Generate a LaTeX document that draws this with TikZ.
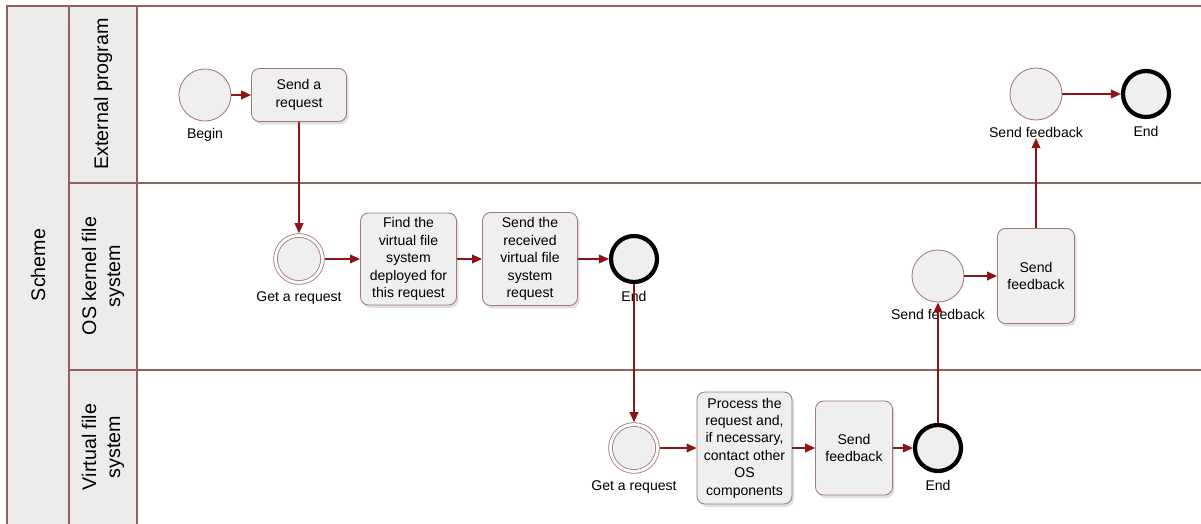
\documentclass[tikz,border=0pt]{standalone}
\usepackage{fontspec}
\setmainfont{Liberation Sans}
\usetikzlibrary{arrows.meta,positioning,shadows}
\definecolor{lanered}{RGB}{150,95,95}
\definecolor{flowred}{RGB}{140,20,20}
\definecolor{boxedge}{RGB}{165,120,120}
\definecolor{boxfill}{RGB}{239,239,239}
\definecolor{headfill}{RGB}{236,236,236}

\begin{document}
\begin{tikzpicture}[
    x=0.025cm, y=-0.025cm,
    >={Triangle[length=2.5mm,width=2.2mm]},
    flow/.style={draw=flowred, line width=0.9pt, ->},
    lane/.style={draw=lanered, line width=0.8pt},
    head/.style={lane, fill=headfill},
    lanetxt/.style={rotate=90, align=center, font=\fontsize{14}{17}\selectfont},
    task/.style={draw=boxedge, fill=boxfill, rounded corners=2mm, line width=0.6pt, align=center, inner sep=2pt,
      font=\fontsize{10}{12.4}\selectfont, drop shadow={shadow xshift=0.5mm, shadow yshift=-0.7mm, opacity=0.25}},
    event/.style={circle, draw=boxedge, fill=boxfill, line width=0.6pt, minimum size=1.3cm, inner sep=0pt},
    catch/.style={event, minimum size=1.175cm, double=white, double distance=2pt, outer sep=1.6pt},
    stop/.style={event, draw=black, line width=3pt, minimum size=1.15cm},
    evlabel/.style={below=1.7mm of #1, inner sep=0pt, font=\fontsize{10}{12}\selectfont},
  ]
  \useasboundingbox (0,0) rectangle (1201,524);
  \fill[white] (0,0) rectangle (1201,524);
  % pool and lanes
  \draw[head] (7,6) rectangle (69,540);
  \draw[head] (69,6) rectangle (137,540);
  \draw[lane] (137,6) -- (1220,6);
  \draw[lane] (69,183) -- (1220,183);
  \draw[lane] (69,370) -- (1220,370);
  \node[lanetxt] (scheme) at (38,265) {Scheme};
  \node[lanetxt] (extlane) at (103,94) {External program};
  \node[lanetxt] (oslane) at (103,276) {OS kernel file\\system};
  \node[lanetxt] (vfslane) at (103,447) {Virtual file\\system};

  % external program
  \node[event] (begin) at (205,95) {};
  \node[evlabel=begin] (beginlbl) {Begin};
  \node[task, minimum width=2.375cm, minimum height=1.325cm] (sendreq) at (299,95) {Send a\\request};
  \node[event] (fbx) at (1036,94) {};
  \node[evlabel=fbx] (fbxlbl) {Send feedback};
  \node[stop] (endx) at (1146,94) {};
  \node[evlabel=endx] (endxlbl) {End};

  % OS kernel file system
  \node[catch] (getk) at (299,259) {};
  \node[evlabel=getk] (getklbl) {Get a request};
  \node[task, minimum width=2.4cm, minimum height=2.3cm] (find) at (408.5,259)
    {Find the\\virtual file\\system\\deployed for\\this request};
  \node[task, minimum width=2.375cm, minimum height=2.325cm] (sendrecv) at (530,259)
    {Send the\\received\\virtual file\\system\\request};
  \node[stop] (endk) at (634,259) {};
  \node[evlabel=endk] (endklbl) {End};
  \node[event] (fbk) at (938,276) {};
  \node[evlabel=fbk] (fbklbl) {Send feedback};
  \node[task, minimum width=1.925cm, minimum height=2.375cm] (fbkern) at (1036,276) {Send\\feedback};

  % virtual file system
  \node[catch] (getv) at (634,448) {};
  \node[evlabel=getv] (getvlbl) {Get a request};
  \node[task, minimum width=2.375cm, minimum height=2.8cm] (process) at (744.5,448)
    {Process the\\request and,\\if necessary,\\contact other\\OS\\components};
  \node[task, minimum width=1.925cm, minimum height=2.35cm] (fbvfs) at (854,448) {Send\\feedback};
  \node[stop] (endv) at (938,448) {};
  \node[evlabel=endv] (endvlbl) {End};

  \draw[flow] (begin) -- (sendreq);
  \draw[flow] (sendreq) -- (getk);
  \draw[flow] (getk) -- (find);
  \draw[flow] (find) -- (sendrecv);
  \draw[flow] (sendrecv) -- (endk);
  \draw[flow] (endk) -- (getv);
  \draw[flow] (getv) -- (process);
  \draw[flow] (process) -- (fbvfs);
  \draw[flow] (fbvfs) -- (endv);
  \draw[flow] (endv) -- (fbk);
  \draw[flow] (fbk) -- (fbkern);
  \draw[flow] (fbkern) -- (fbxlbl);
  \draw[flow] (fbx) -- (endx);
\end{tikzpicture}
\end{document}
